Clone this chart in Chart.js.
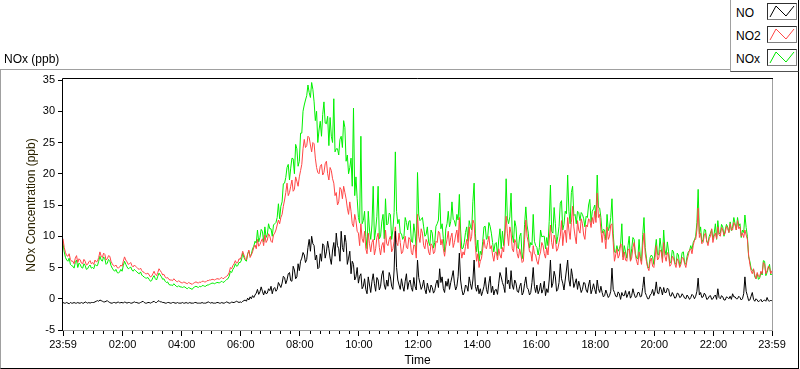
<!DOCTYPE html>
<html>
<head>
<meta charset="utf-8">
<title>NOx (ppb)</title>
<script src="https://cdn.jsdelivr.net/npm/chart.js@4.4.0/dist/chart.umd.min.js"></script>
<style>
    html, body { margin: 0; padding: 0; background: #fff; }
    #wrap { position: relative; width: 800px; height: 369px; overflow: hidden; font-family: "Liberation Sans", Arial, sans-serif; font-size: 12px; color: #000; }
    #panel { position: absolute; left: 0; top: 69px; width: 797px; height: 298px; border-left: 1px solid #a0a0a0; border-top: 1px solid #a0a0a0; border-right: 1px solid #000; border-bottom: 1px solid #000; }
    #graph { position: absolute; left: 0; top: 0; }
    #legend { position: absolute; left: 730px; top: -1px; width: 67px; height: 72px; background: #fff; border-left: 1px solid #a0a0a0; border-right: 1px solid #000; border-bottom: 1px solid #505050; }
    .lbl { position: absolute; line-height: 14px; white-space: nowrap; }
    .swatch { position: absolute; width: 28px; height: 15px; border: 1px solid #808080; border-top-color: #303030; border-left-color: #303030; background: #fff; }
    .swatch svg { display: block; }
</style>
</head>
<body>
<div id="wrap">
    <div id="panel"></div>
    <canvas id="graph" width="800" height="369"></canvas>
    <div class="lbl" style="left:4px; top:52px;">NOx (ppb)</div>
    <div id="legend">
        <div class="lbl" style="left:5px; top:7px;">NO</div>
        <div class="lbl" style="left:5px; top:30px;">NO2</div>
        <div class="lbl" style="left:5px; top:53px;">NOx</div>
        <div class="swatch" style="left:36px; top:4px;"><svg width="28" height="15"><polyline points="2,13 8,2 18,12 26,2" fill="none" stroke="#000" stroke-width="1"/></svg></div>
        <div class="swatch" style="left:36px; top:27px;"><svg width="28" height="15"><polyline points="2,13 8,2 18,12 26,2" fill="none" stroke="#ff4646" stroke-width="1"/></svg></div>
        <div class="swatch" style="left:36px; top:50px;"><svg width="28" height="15"><polyline points="2,13 8,2 18,12 26,2" fill="none" stroke="#00e800" stroke-width="1"/></svg></div>
    </div>
</div>
<script>
    // one sample every 2.5 minutes, the first at 23:59 of the previous day (-1 min)
    const startMinute = -1;
    const stepMinutes = 2.5;

    // NO (ppb), one row per hour
    const noValues = [
        -0.6, -0.7, -0.7, -0.6, -0.7, -0.8, -0.6, -0.7, -0.7, -0.6, -0.7, -0.7, -0.6, -0.7, -0.7, -0.6, -0.7, -0.7, -0.5, -0.6, -0.7, -0.6, -0.7, -0.6,
        -0.6, -0.6, -0.5, -0.4, -0.3, -0.4, -0.2, -0.3, -0.4, -0.5, -0.5, -0.4, -0.3, -0.5, -0.6, -0.7, -0.7, -0.6, -0.6, -0.7, -0.6, -0.5, -0.7, -0.6,
        -0.6, -0.7, -0.5, -0.6, -0.7, -0.6, -0.6, -0.7, -0.7, -0.6, -0.5, -0.6, -0.6, -0.7, -0.7, -0.6, -0.5, -0.4, -0.6, -0.7, -0.7, -0.6, -0.6, -0.7,
        -0.6, -0.5, -0.4, -0.6, -0.6, -0.4, -0.3, -0.5, -0.5, -0.6, -0.6, -0.7, -0.7, -0.6, -0.6, -0.7, -0.7, -0.6, -0.6, -0.7, -0.7, -0.6, -0.7, -0.7,
        -0.7, -0.6, -0.7, -0.7, -0.6, -0.7, -0.7, -0.6, -0.7, -0.7, -0.7, -0.6, -0.6, -0.7, -0.7, -0.7, -0.7, -0.6, -0.7, -0.7, -0.7, -0.6, -0.5, -0.6,
        -0.7, -0.6, -0.7, -0.7, -0.7, -0.6, -0.6, -0.7, -0.7, -0.6, -0.7, -0.7, -0.6, -0.5, -0.6, -0.7, -0.7, -0.5, -0.6, -0.6, -0.5, -0.4, -0.5, -0.6,
        -0.5, -0.6, -0.4, -0.3, -0.2, -0.4, 0.1, -0.2, 0.3, 0.0, 0.5, 0.2, 0.6, 0.9, 1.5, 0.7, 1.1, 1.9, 1.2, 0.6, 1.3, 0.8, 0.9, 1.6,
        1.3, 2.0, 0.8, 1.6, 1.8, 1.2, 1.5, 2.6, 2.2, 1.8, 2.5, 3.6, 3.4, 2.4, 3.0, 4.0, 4.2, 2.9, 2.8, 5.2, 4.6, 3.2, 3.5, 5.6,
        4.5, 6.0, 6.5, 7.4, 7.0, 5.8, 6.3, 8.2, 9.5, 7.6, 10.0, 8.8, 8.5, 6.2, 7.0, 4.8, 5.0, 7.2, 6.0, 8.8, 8.5, 6.5, 7.5, 9.2,
        8.0, 6.5, 5.5, 7.8, 9.0, 6.8, 10.5, 8.5, 8.0, 6.0, 10.8, 8.2, 7.5, 10.2, 9.0, 5.5, 6.5, 7.6, 4.0, 6.0, 5.5, 3.0, 3.5, 5.0,
        2.5, 3.6, 4.0, 1.6, 2.0, 3.2, 1.5, 0.8, 3.5, 2.2, 1.0, 2.8, 4.0, 2.4, 1.2, 3.4, 3.0, 1.4, 2.0, 3.8, 4.5, 2.2, 1.5, 3.0,
        2.0, 4.2, 3.5, 2.0, 1.5, 4.6, 10.8, 5.0, 3.0, 2.2, 1.5, 3.2, 2.0, 1.2, 2.8, 4.0, 1.5, 2.6, 3.0, 1.8, 1.2, 3.4, 2.0, 1.4,
        6.2, 3.4, 2.5, 1.5, 2.0, 3.0, 1.5, 0.8, 2.5, 1.6, 1.0, 2.2, 1.8, 0.9, 1.3, 2.4, 3.0, 1.8, 4.8, 2.6, 3.5, 1.6, 1.0, 2.8,
        2.0, 3.2, 1.5, 2.6, 3.5, 4.5, 2.5, 1.4, 2.0, 3.6, 7.3, 3.0, 1.5, 0.6, 1.0, 2.2, 2.0, 1.2, 3.5, 2.4, 1.5, 3.0, 6.2, 2.0,
        1.2, 2.2, 0.8, 1.6, 0.5, 1.2, 2.0, 3.4, 1.5, 0.8, 2.5, 3.6, 1.0, 2.0, 0.6, 1.4, 1.5, 0.7, 2.5, 4.2, 3.5, 2.6, 2.0, 1.0,
        5.0, 2.4, 3.0, 1.6, 4.5, 2.2, 1.5, 3.0, 2.5, 1.2, 1.0, 2.0, 2.5, 0.6, 1.0, 2.4, 3.5, 1.8, 1.5, 0.6, 1.0, 2.6, 5.0, 2.0,
        1.0, 2.2, 0.8, 1.4, 2.5, 0.9, 1.5, 2.8, 0.5, 1.6, 1.0, 3.0, 6.2, 1.8, 2.5, 4.4, 3.5, 1.2, 1.5, 2.6, 5.6, 3.2, 2.5, 1.4,
        3.0, 4.6, 6.2, 3.0, 2.0, 4.8, 3.5, 1.8, 2.5, 3.2, 1.5, 2.8, 2.0, 1.0, 1.5, 2.6, 2.5, 1.4, 1.0, 2.2, 3.0, 0.8, 1.5, 2.4,
        1.5, 0.8, 3.0, 1.6, 1.0, 2.0, 1.0, 0.3, 0.5, 1.4, 0.8, 0.2, 0.5, 1.2, 4.9, 1.5, 1.0, 0.4, 0.3, 1.1, 0.8, -0.1, 1.0, 0.5,
        0.5, 1.3, 0.2, 0.7, 1.2, 0.1, 0.5, 1.6, 0.8, 0.2, 0.3, 1.0, 1.0, 0.3, 0.4, 1.8, 3.5, 1.0, 0.5, 0.0, 0.0, 0.6, 0.8, 1.5,
        0.5, 1.2, 2.7, 0.9, 0.8, 1.9, 1.5, 0.6, 1.8, 1.0, 1.0, 1.7, 1.5, 0.5, 0.4, 1.0, 0.6, 0.1, 0.2, 0.9, 0.8, 0.2, 0.3, 0.8,
        0.5, 0.1, 0.0, 0.6, 0.3, -0.1, 0.2, 0.7, 0.5, 0.0, 0.4, 1.2, 3.3, 0.6, 1.0, 0.2, 0.3, 0.9, 0.6, -0.1, 0.0, 0.4, 0.5, -0.1,
        0.0, 0.4, 0.6, -0.1, 1.6, 0.2, 0.0, 0.5, 0.3, -0.2, -0.2, 0.3, 0.2, 0.0, 0.4, -0.1, 0.8, 0.3, 0.3, 0.0, 0.0, 0.4, 0.2, -0.2,
        0.0, 0.8, 3.5, 1.2, 0.5, -0.3, -0.2, 0.4, 1.0, -0.1, -0.4, 0.0, -0.2, -0.5, -0.3, -0.1, -0.5, -0.3, -0.2, -0.4, 0.2, -0.3, -0.4, -0.2, -0.4
    ];

    // NO2 (ppb)
    const no2Values = [
        9.6, 8.2, 7.4, 6.9, 6.8, 7.2, 6.3, 6.0, 6.0, 5.6, 6.5, 6.9, 5.8, 6.4, 6.2, 5.7, 5.6, 6.3, 6.0, 5.4, 5.5, 5.9, 6.1, 5.6,
        5.8, 5.5, 6.2, 5.9, 6.0, 6.6, 7.5, 6.8, 6.6, 7.3, 7.1, 6.2, 6.4, 6.9, 6.8, 6.0, 5.6, 5.3, 5.2, 5.4, 5.0, 4.9, 5.1, 5.4,
        5.2, 6.0, 6.7, 6.2, 5.9, 5.5, 5.6, 5.8, 5.3, 5.1, 5.4, 5.2, 5.0, 4.8, 4.7, 4.9, 4.5, 4.3, 4.2, 4.0, 4.0, 4.1, 3.8, 3.5,
        3.6, 4.0, 4.4, 3.9, 3.7, 4.2, 4.8, 4.5, 4.2, 3.8, 3.9, 3.5, 3.3, 3.4, 3.1, 3.0, 3.0, 2.9, 3.2, 3.0, 2.8, 2.7, 2.9, 2.7,
        2.6, 2.5, 2.7, 2.6, 2.5, 2.4, 2.6, 2.5, 2.4, 2.3, 2.5, 2.6, 2.7, 2.6, 2.5, 2.7, 2.6, 2.8, 2.8, 2.7, 2.7, 2.9, 2.9, 3.0,
        3.0, 3.1, 3.1, 3.0, 3.1, 3.2, 3.2, 3.1, 3.3, 3.4, 3.2, 3.3, 3.5, 3.6, 3.8, 4.2, 5.0, 4.8, 5.3, 5.6, 6.1, 5.7, 5.8, 6.4,
        6.3, 6.8, 7.6, 7.0, 6.4, 6.2, 7.1, 7.8, 6.6, 7.0, 7.5, 8.2, 8.6, 8.0, 9.5, 8.4, 8.7, 9.2, 9.6, 8.5, 10.2, 9.0, 9.4, 10.4,
        10.0, 9.2, 9.0, 10.2, 10.5, 11.0, 11.8, 12.6, 12.0, 13.0, 13.5, 14.8, 15.8, 17.0, 18.5, 16.5, 17.0, 18.0, 19.0, 17.2, 17.5, 19.5, 18.8, 18.0,
        19.5, 20.5, 21.5, 24.0, 25.5, 24.2, 24.5, 26.0, 25.8, 24.6, 23.5, 25.0, 24.8, 22.5, 21.0, 20.2, 20.0, 21.2, 21.5, 19.8, 20.2, 21.6, 22.0, 20.0,
        19.0, 21.0, 20.5, 19.2, 18.5, 16.5, 17.0, 15.0, 15.5, 17.8, 17.5, 16.0, 18.0, 17.0, 16.0, 14.5, 13.5, 15.5, 14.0, 12.0, 11.5, 13.5, 12.5, 10.8,
        10.5, 8.5, 12.0, 9.6, 9.0, 10.8, 8.0, 7.2, 10.5, 8.8, 7.5, 9.0, 9.5, 7.0, 8.0, 9.8, 10.5, 8.2, 7.0, 8.5, 9.0, 7.4, 11.0, 8.8,
        8.5, 9.5, 10.0, 7.5, 8.0, 9.2, 11.5, 9.0, 8.5, 10.5, 9.0, 7.2, 7.5, 8.8, 10.0, 8.2, 8.0, 9.8, 9.5, 7.4, 7.0, 8.6, 8.5, 6.5,
        13.5, 10.0, 9.0, 11.2, 10.5, 8.5, 8.0, 9.5, 9.0, 7.5, 7.0, 8.8, 8.5, 7.2, 7.5, 9.2, 9.0, 10.8, 10.5, 8.6, 9.5, 8.0, 6.8, 8.4,
        9.5, 10.8, 8.5, 9.8, 10.5, 8.2, 9.0, 10.2, 11.0, 9.0, 13.0, 8.0, 6.5, 7.5, 7.0, 8.4, 9.5, 8.0, 11.5, 9.2, 10.0, 12.6, 12.0, 8.5,
        6.0, 7.2, 5.0, 6.0, 6.5, 8.0, 9.5, 8.2, 8.0, 9.0, 10.0, 8.0, 8.5, 7.0, 6.0, 7.4, 7.5, 6.2, 8.0, 7.0, 6.5, 8.2, 7.5, 10.0,
        13.2, 10.5, 8.5, 11.5, 10.5, 8.0, 7.5, 9.5, 9.0, 7.2, 6.5, 8.0, 7.0, 5.8, 6.0, 9.5, 12.6, 10.0, 9.0, 7.5, 7.5, 6.0, 8.5, 7.2,
        7.0, 6.0, 5.5, 6.8, 7.5, 9.0, 8.5, 7.2, 6.5, 8.2, 7.0, 9.4, 11.8, 9.0, 8.0, 10.2, 9.5, 7.6, 8.0, 9.0, 10.0, 12.5, 8.5, 10.5,
        11.0, 9.0, 13.0, 11.0, 9.5, 12.2, 14.8, 11.5, 10.0, 8.8, 12.5, 11.0, 10.5, 12.8, 12.0, 10.2, 9.5, 11.8, 11.5, 12.8, 12.5, 11.4, 13.0, 12.0,
        14.0, 12.2, 16.9, 13.0, 13.5, 11.0, 9.0, 10.8, 10.0, 8.0, 11.5, 9.5, 10.0, 11.8, 12.0, 9.0, 6.0, 7.0, 8.0, 6.5, 7.0, 8.8, 8.5, 6.2,
        7.5, 6.2, 6.0, 7.8, 8.0, 6.0, 6.5, 8.2, 9.0, 7.0, 6.0, 5.4, 7.5, 6.4, 5.5, 8.5, 10.5, 7.2, 6.0, 5.0, 4.5, 6.0, 6.5, 5.2,
        5.0, 6.6, 8.5, 6.2, 6.5, 7.8, 7.5, 5.8, 9.0, 6.8, 6.0, 7.4, 7.0, 5.2, 5.5, 6.8, 6.5, 5.6, 5.0, 6.4, 6.0, 5.0, 5.5, 6.6,
        6.5, 5.6, 5.0, 6.2, 7.0, 7.8, 8.0, 7.2, 8.5, 9.4, 9.5, 11.0, 14.5, 9.8, 10.5, 8.8, 9.0, 10.2, 10.5, 9.2, 8.5, 9.6, 10.0, 11.2,
        9.0, 10.0, 10.5, 9.6, 11.5, 10.2, 10.0, 11.4, 11.0, 10.2, 10.5, 11.6, 11.2, 10.6, 12.0, 11.0, 11.0, 12.2, 11.8, 11.0, 12.5, 11.2, 11.5, 10.0,
        10.5, 9.8, 11.0, 10.2, 9.5, 7.0, 5.5, 4.5, 4.0, 4.8, 3.8, 3.2, 4.2, 3.6, 3.5, 4.4, 4.0, 5.8, 5.5, 4.0, 4.5, 5.2, 5.0, 4.0, 4.5
    ];

    // NOx (ppb)
    const noxValues = [
        8.9, 7.5, 6.6, 6.2, 6.0, 6.5, 5.5, 5.3, 5.2, 4.9, 5.8, 6.2, 5.0, 5.7, 5.5, 5.0, 4.9, 5.6, 5.3, 4.7, 4.8, 5.2, 5.4, 4.9,
        5.0, 4.8, 5.5, 5.3, 5.3, 6.0, 6.8, 6.2, 6.0, 6.7, 6.4, 5.5, 5.7, 6.3, 6.1, 5.3, 4.9, 4.6, 4.4, 4.7, 4.2, 4.1, 4.3, 4.7,
        4.4, 5.3, 6.0, 5.5, 5.1, 4.8, 4.9, 5.1, 4.6, 4.4, 4.7, 4.5, 4.3, 4.1, 4.0, 4.3, 3.8, 3.6, 3.5, 3.3, 3.3, 3.4, 3.1, 2.8,
        2.9, 3.4, 3.7, 3.2, 3.0, 3.6, 4.1, 3.8, 3.5, 3.1, 3.2, 2.8, 2.6, 2.7, 2.3, 2.2, 2.2, 2.1, 2.4, 2.2, 2.0, 1.9, 2.1, 1.9,
        1.9, 1.8, 1.9, 1.9, 1.7, 1.6, 1.8, 1.7, 1.6, 1.5, 1.8, 1.9, 2.0, 1.9, 1.8, 2.0, 1.9, 2.1, 2.1, 2.0, 2.0, 2.2, 2.2, 2.3,
        2.4, 2.5, 2.5, 2.4, 2.5, 2.6, 2.6, 2.5, 2.7, 2.8, 2.6, 2.7, 2.9, 3.1, 3.2, 3.6, 4.4, 4.2, 4.7, 5.0, 5.6, 5.2, 5.3, 5.8,
        5.8, 6.2, 7.3, 6.6, 6.2, 6.0, 7.2, 7.6, 6.9, 7.1, 8.0, 8.4, 9.2, 8.9, 11.0, 9.1, 9.8, 11.1, 10.8, 9.1, 11.5, 9.8, 10.3, 12.0,
        11.2, 11.2, 10.0, 11.8, 12.0, 12.2, 13.0, 15.2, 12.8, 14.8, 15.5, 18.4, 18.5, 19.4, 21.0, 21.5, 19.0, 20.9, 22.5, 22.4, 20.0, 24.7, 24.0, 21.2,
        22.0, 26.5, 26.5, 30.0, 31.0, 31.8, 32.5, 34.2, 33.0, 32.2, 34.6, 33.5, 31.5, 28.5, 30.0, 25.0, 27.0, 28.4, 26.0, 29.5, 31.5, 28.1, 28.0, 29.2,
        24.5, 29.0, 26.0, 25.0, 32.0, 23.5, 24.0, 24.0, 23.0, 25.5, 26.0, 24.2, 28.5, 27.4, 22.0, 23.0, 20.0, 21.0, 22.5, 18.0, 30.5, 16.5, 19.5, 16.0,
        13.0, 12.1, 26.0, 12.0, 12.5, 14.0, 10.0, 8.0, 14.0, 11.0, 9.5, 11.8, 18.0, 9.4, 11.0, 13.2, 18.0, 9.6, 10.0, 12.3, 13.5, 9.6, 16.0, 11.8,
        12.0, 13.7, 13.5, 9.5, 11.0, 13.8, 23.5, 14.0, 12.0, 12.7, 10.5, 10.4, 9.5, 10.0, 13.0, 12.2, 11.0, 12.4, 12.5, 9.2, 9.0, 12.0, 10.5, 7.9,
        20.2, 13.4, 12.5, 12.7, 13.0, 11.5, 10.0, 10.3, 11.5, 9.1, 8.5, 11.0, 10.5, 8.1, 9.0, 11.6, 12.0, 12.6, 16.9, 11.2, 12.0, 9.6, 7.5, 11.2,
        12.0, 14.0, 11.5, 12.4, 15.5, 12.7, 12.5, 11.6, 13.5, 12.6, 16.7, 11.0, 8.0, 8.1, 9.0, 10.6, 11.5, 9.2, 12.5, 11.6, 11.0, 15.6, 18.5, 10.5,
        7.5, 9.4, 6.0, 7.6, 7.0, 9.2, 11.5, 11.6, 9.5, 9.8, 12.2, 11.6, 10.5, 9.0, 7.5, 8.8, 9.0, 6.9, 9.4, 11.2, 8.0, 10.8, 8.5, 11.0,
        19.2, 12.9, 12.0, 13.1, 16.9, 10.2, 9.0, 12.5, 11.5, 8.4, 8.0, 10.0, 10.5, 6.4, 7.5, 11.9, 14.7, 11.8, 10.5, 8.1, 9.0, 8.6, 13.5, 9.2,
        8.5, 8.2, 7.0, 8.2, 11.0, 9.9, 10.0, 10.0, 8.0, 9.8, 8.5, 12.4, 18.2, 10.8, 10.5, 14.6, 12.0, 8.8, 10.0, 11.6, 15.3, 15.7, 11.0, 11.9,
        14.0, 13.6, 19.8, 14.0, 12.0, 17.0, 18.0, 13.3, 13.5, 12.0, 14.0, 13.8, 12.5, 13.8, 13.5, 12.8, 11.5, 13.2, 13.0, 15.0, 15.9, 12.2, 14.0, 14.4,
        15.0, 13.0, 19.8, 14.6, 14.5, 13.0, 10.5, 11.1, 11.0, 9.4, 13.5, 10.9, 11.5, 13.0, 16.0, 10.5, 7.5, 7.4, 8.5, 7.6, 8.0, 8.7, 12.0, 6.7,
        8.5, 7.5, 6.5, 8.5, 10.0, 6.1, 8.0, 9.8, 9.5, 7.2, 6.5, 6.4, 9.5, 6.7, 6.0, 10.3, 13.0, 8.2, 6.5, 5.0, 5.0, 6.6, 7.0, 6.7,
        5.5, 7.8, 9.5, 7.1, 7.0, 9.7, 8.0, 6.4, 11.0, 7.8, 7.0, 9.1, 7.5, 5.7, 6.0, 7.8, 7.5, 5.7, 5.5, 7.3, 7.0, 5.2, 6.0, 7.4,
        7.5, 5.7, 5.5, 6.8, 7.5, 7.7, 8.5, 7.9, 9.0, 9.4, 10.0, 12.2, 17.5, 10.4, 11.5, 9.0, 9.5, 11.1, 11.0, 9.1, 9.0, 10.0, 10.5, 11.1,
        9.5, 10.4, 12.0, 9.5, 12.5, 10.4, 10.5, 11.9, 11.5, 10.0, 11.0, 11.9, 11.5, 10.6, 12.3, 10.9, 11.5, 13.0, 12.0, 11.0, 13.0, 11.6, 12.0, 9.8,
        11.0, 10.6, 13.4, 11.4, 10.0, 6.7, 6.0, 4.9, 4.5, 4.7, 3.5, 3.2, 4.0, 3.1, 3.3, 4.3, 3.8, 6.1, 6.0, 3.7, 4.2, 4.9, 5.5, 3.8, 4.0
    ];

    // labelled ticks on the time axis (minutes from midnight)
    const majorTicks = [-1, 120, 240, 360, 480, 600, 720, 840, 960, 1080, 1200, 1320, 1439];
    const minorStep = 20;
    const yTicks = { min: -5, max: 35, step: 5 };

    const times = noValues.map((_, i) => startMinute + i * stepMinutes);
    const toPoints = (values) => values.map((y, i) => ({ x: times[i], y: y }));

    function formatTime(v) {
        if (v < 0 || v >= 1439) return "23:59";
        const h = Math.floor(v / 60);
        return (h < 10 ? "0" : "") + h + ":00";
    }

    const tickFont = { family: "'Liberation Sans', Arial, sans-serif", size: 11 };
    const titleFont = { family: "'Liberation Sans', Arial, sans-serif", size: 12 };

    // frame of the plot area and the short minor ticks below the time axis
    const framePlugin = {
        id: "frame",
        afterDraw(chart) {
            const ctx = chart.ctx;
            const area = chart.chartArea;
            const xScale = chart.scales.x;
            ctx.save();
            ctx.lineWidth = 1;

            ctx.strokeStyle = "#000";
            for (let v = minorStep; v < 1439; v += minorStep) {
                if (v % 120 === 0) continue;
                const px = Math.round(xScale.getPixelForValue(v)) + 0.5;
                ctx.beginPath();
                ctx.moveTo(px, area.bottom);
                ctx.lineTo(px, area.bottom + 4);
                ctx.stroke();
            }

            ctx.strokeStyle = "#a0a0a0";
            ctx.beginPath();
            ctx.moveTo(area.left, area.bottom + 0.5);
            ctx.lineTo(area.right + 1, area.bottom + 0.5);
            ctx.moveTo(area.right + 0.5, area.top - 1);
            ctx.lineTo(area.right + 0.5, area.bottom + 1);
            ctx.stroke();

            ctx.strokeStyle = "#000";
            ctx.beginPath();
            ctx.moveTo(area.left - 0.5, area.bottom + 1);
            ctx.lineTo(area.left - 0.5, area.top - 1.5);
            ctx.lineTo(area.right + 1, area.top - 1.5);
            ctx.stroke();
            ctx.restore();
        }
    };

    new Chart(document.getElementById("graph"), {
        type: "line",
        data: {
            datasets: [
                { label: "NO", data: toPoints(noValues), borderColor: "#000000" },
                { label: "NO2", data: toPoints(no2Values), borderColor: "#ff4646" },
                { label: "NOx", data: toPoints(noxValues), borderColor: "#00f000" }
            ]
        },
        options: {
            responsive: false,
            animation: false,
            layout: { padding: { left: 0, top: 80, right: 28, bottom: 0 } },
            elements: {
                point: { radius: 0 },
                line: { borderWidth: 1, tension: 0, fill: false }
            },
            plugins: {
                legend: { display: false },
                tooltip: { enabled: false }
            },
            scales: {
                x: {
                    type: "linear",
                    min: majorTicks[0],
                    max: majorTicks[majorTicks.length - 1],
                    afterFit: (scale) => { scale.height = 39; },
                    afterBuildTicks: (scale) => { scale.ticks = majorTicks.map((v) => ({ value: v })); },
                    ticks: {
                        autoSkip: false,
                        maxRotation: 0,
                        padding: 2,
                        color: "#000",
                        font: tickFont,
                        callback: (v) => formatTime(v)
                    },
                    grid: { drawOnChartArea: false, drawTicks: true, tickLength: 6, tickColor: "#000" },
                    border: { display: false },
                    title: { display: true, text: "Time", color: "#000", font: titleFont, padding: { top: 0, bottom: 1 } }
                },
                y: {
                    min: yTicks.min,
                    max: yTicks.max,
                    afterFit: (scale) => { scale.width = 63; },
                    ticks: { stepSize: yTicks.step, padding: 3, color: "#000", font: tickFont },
                    grid: { drawOnChartArea: false, drawTicks: true, tickLength: 5, tickColor: "#000" },
                    border: { display: false },
                    title: { display: true, text: "NOx Concentration (ppb)", color: "#2a2200", font: titleFont, padding: { top: 24, bottom: 0 } }
                }
            }
        },
        plugins: [framePlugin]
    });
</script>
</body>
</html>
